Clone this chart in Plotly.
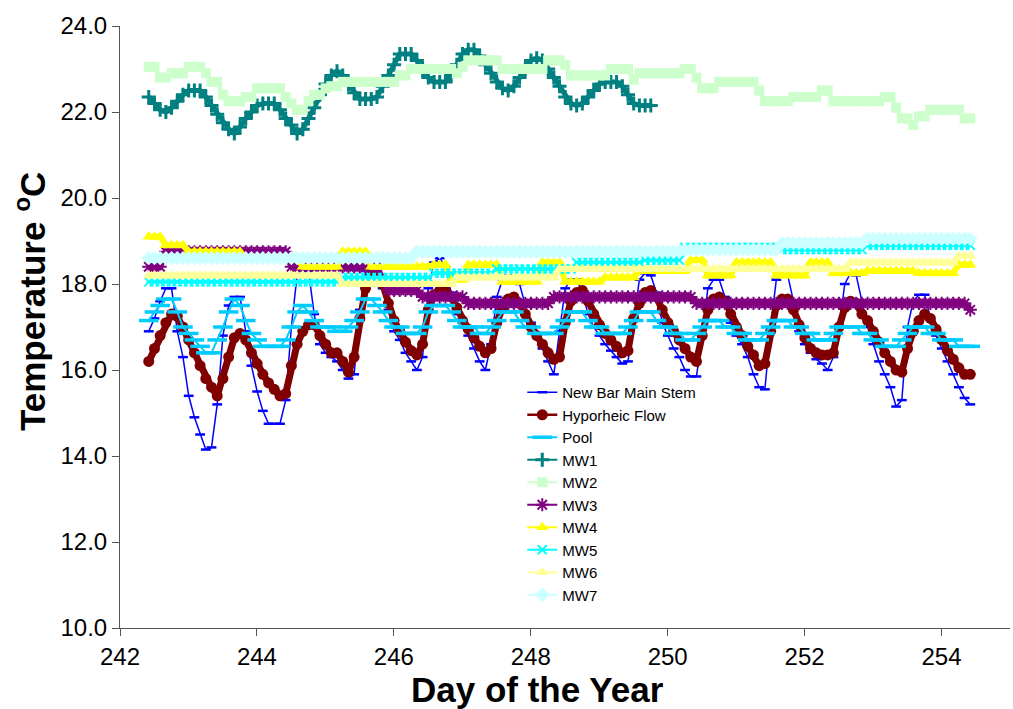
import plotly.graph_objects as go

# time axis: two-hourly readings (day of year)
START_DAY = 242.42
STEP_DAY = 1 / 12
N_READINGS = 145
days = [round(START_DAY + k * STEP_DAY, 4) for k in range(N_READINGS)]

new_bar = [
    16.9, 17.2, 17.6, 17.9, 17.9, 16.9, 16.3, 15.4, 14.9, 14.5, 14.15, 14.2,
    15.2, 16.8, 17.5, 17.7, 17.7, 16.9, 16.1, 15.5, 15.05, 14.75, 14.75, 14.75,
    15.3, 17.0, 18.2, 18.4, 18.3, 17.3, 16.6, 16.4, 16.3, 16.2, 16.0, 15.8,
    15.9, 17.4, 18.3, 18.6, 18.5, 17.9, 17.4, 16.9, 16.7, 16.4, 16.2, 16.0,
    16.3, 17.9, 18.5, 18.6, 18.4, 17.8, 17.3, 17.1, 16.8, 16.5, 16.2, 16.0,
    16.6, 17.7, 18.1, 18.2, 18.1, 18.0, 17.5, 17.1, 16.8, 16.5, 16.2, 15.9,
    16.9, 17.9, 18.1, 18.1, 17.8, 17.3, 17.0, 16.8, 16.6, 16.45, 16.3, 16.15,
    16.2, 17.2, 18.1, 18.25, 18.2, 17.8, 17.1, 16.8, 16.5, 16.3, 16.0, 15.85,
    15.85, 16.8, 17.9, 18.1, 18.1, 17.7, 17.1, 16.8, 16.6, 16.3, 15.9, 15.6,
    15.55, 17.0, 18.1, 18.2, 18.2, 17.6, 16.9, 16.6, 16.4, 16.25, 16.15, 16.0,
    16.3, 17.0, 18.0, 18.25, 18.2, 17.6, 17.0, 16.6, 16.2, 15.9, 15.6, 15.15,
    15.3, 17.0, 17.6, 17.75, 17.75, 17.2, 16.8, 16.5, 16.2, 15.9, 15.6, 15.35,
    15.2,
]

hyporheic = [
    16.2, 16.5, 16.8, 17.1, 17.3, 17.25, 17.0, 16.7, 16.4, 16.1, 15.8, 15.6,
    15.4, 15.8, 16.3, 16.75, 16.85, 16.7, 16.4, 16.15, 15.9, 15.7, 15.55, 15.4,
    15.45, 16.1, 16.6, 16.9, 17.05, 17.05, 16.8, 16.6, 16.4, 16.4, 16.2, 15.95,
    16.3, 17.2, 17.9, 18.35, 18.4, 18.0, 17.55, 17.15, 16.9, 16.65, 16.45, 16.35,
    16.6, 17.4, 17.75, 17.85, 17.85, 17.7, 17.45, 17.15, 16.95, 16.75, 16.55, 16.4,
    16.5, 17.1, 17.45, 17.65, 17.7, 17.55, 17.3, 17.0, 16.8, 16.6, 16.4, 16.25,
    16.3, 17.1, 17.6, 17.8, 17.85, 17.6, 17.3, 17.05, 16.85, 16.7, 16.55, 16.4,
    16.45, 17.2, 17.55, 17.8, 17.85, 17.7, 17.4, 17.1, 16.9, 16.7, 16.5, 16.3,
    16.2, 16.8, 17.4, 17.65, 17.7, 17.6, 17.3, 17.0, 16.8, 16.55, 16.35, 16.1,
    16.15, 16.9, 17.5, 17.65, 17.65, 17.4, 17.05, 16.75, 16.5, 16.4, 16.35, 16.35,
    16.4, 17.0, 17.45, 17.6, 17.55, 17.3, 17.15, 16.9, 16.65, 16.4, 16.2, 16.0,
    15.95, 16.5, 16.9, 17.15, 17.3, 17.2, 16.95, 16.7, 16.45, 16.25, 16.05, 15.9,
    15.9,
]

pool = [
    17.15, 17.35, 17.5, 17.65, 17.65, 17.35, 17.0, 16.85, 16.7, 16.55, 16.4, 16.4,
    16.7, 17.0, 17.35, 17.65, 17.5, 17.15, 16.85, 16.7, 16.55, 16.55, 16.55, 16.55,
    16.7, 17.0, 17.35, 17.5, 17.35, 17.15, 17.0, 17.0, 17.0, 16.9, 16.9, 17.0,
    17.15, 17.35, 17.65, 17.65, 17.5, 17.35, 17.15, 17.0, 17.0, 16.85, 16.85, 16.85,
    17.0, 17.35, 17.5, 17.5, 17.5, 17.35, 17.15, 17.0, 17.0, 17.0, 16.85, 16.85,
    17.0, 17.15, 17.35, 17.35, 17.35, 17.15, 17.0, 17.0, 16.85, 16.85, 16.85, 16.85,
    17.0, 17.15, 17.35, 17.35, 17.35, 17.15, 17.0, 17.0, 16.85, 16.85, 16.85, 16.85,
    17.0, 17.15, 17.35, 17.35, 17.35, 17.15, 17.0, 17.0, 16.85, 16.85, 16.7, 16.7,
    16.85, 17.0, 17.15, 17.15, 17.15, 17.0, 17.0, 16.85, 16.85, 16.7, 16.7, 16.7,
    16.85, 17.0, 17.15, 17.15, 17.15, 17.0, 17.0, 16.85, 16.85, 16.7, 16.7, 16.7,
    16.85, 17.0, 17.0, 17.0, 17.0, 16.85, 16.85, 16.7, 16.7, 16.55, 16.55, 16.55,
    16.7, 16.85, 17.0, 17.0, 17.0, 16.85, 16.85, 16.7, 16.7, 16.7, 16.55, 16.55,
    16.55,
]

mw1 = [
    22.35, 22.2, 22.05, 22.0, 22.1, 22.25, 22.4, 22.5, 22.5, 22.5, 22.35, 22.15,
    21.95, 21.75, 21.6, 21.5, 21.65, 21.85, 22.0, 22.15, 22.2, 22.2, 22.2, 22.05,
    21.85, 21.7, 21.5, 21.6, 21.85, 22.1, 22.4, 22.65, 22.85, 22.95, 22.85, 22.65,
    22.45, 22.3, 22.3, 22.3, 22.35, 22.6, 22.85, 23.1, 23.35, 23.35, 23.35, 23.2,
    23.0, 22.8, 22.7, 22.7, 22.7, 22.85, 23.1, 23.35, 23.45, 23.45, 23.3, 23.1,
    22.9, 22.7, 22.55, 22.5, 22.6, 22.8, 23.0, 23.2, 23.25, 23.2, 23.0, 22.8,
    22.6, 22.35, 22.2, 22.15, 22.2, 22.35, 22.5, 22.65, 22.7, 22.7, 22.7, 22.6,
    22.4, 22.2, 22.15, 22.15, 22.15,
]

mw2 = [
    23.05, 23.05, 22.8, 22.8, 22.9, 22.9, 22.9, 23.05, 23.05, 23.05, 22.9, 22.7,
    22.7, 22.4, 22.25, 22.25, 22.25, 22.35, 22.35, 22.55, 22.55, 22.55, 22.55, 22.55,
    22.35, 22.2, 22.05, 22.05, 22.25, 22.4, 22.4, 22.55, 22.6, 22.6, 22.7, 22.7,
    22.7, 22.7, 22.7, 22.7, 22.7, 22.7, 22.7, 22.7, 22.85, 22.85, 23.0, 23.0,
    23.0, 23.0, 23.0, 23.0, 23.0, 23.0, 22.9, 23.05, 23.2, 23.2, 23.2, 23.2,
    23.2, 23.2, 23.0, 23.0, 23.0, 23.0, 23.0, 23.0, 23.0, 23.0, 23.2, 23.2,
    23.2, 23.1, 22.85, 22.85, 22.85, 22.85, 22.85, 22.85, 22.85, 23.0, 23.0, 23.0,
    23.0, 22.75, 22.9, 22.9, 22.9, 22.9, 22.9, 22.9, 22.9, 22.9, 23.0, 23.0,
    22.8, 22.55, 22.55, 22.55, 22.7, 22.7, 22.7, 22.7, 22.7, 22.7, 22.7, 22.5,
    22.25, 22.25, 22.25, 22.25, 22.25, 22.35, 22.35, 22.35, 22.35, 22.35, 22.5, 22.5,
    22.25, 22.25, 22.25, 22.25, 22.25, 22.25, 22.25, 22.25, 22.25, 22.35, 22.35, 22.1,
    21.85, 21.85, 21.7, 21.9, 21.9, 22.05, 22.05, 22.05, 22.05, 22.05, 22.05, 21.85,
    21.85,
]

mw3 = [
    18.4, 18.4, 18.4, 18.75, 18.75, 18.75, 18.75, 18.75, 18.75, 18.75, 18.75, 18.75,
    18.75, 18.75, 18.75, 18.75, 18.75, 18.75, 18.75, 18.75, 18.75, 18.75, 18.75, 18.75,
    18.75, 18.4, 18.4, 18.4, 18.4, 18.4, 18.4, 18.4, 18.4, 18.4, 18.4, 18.4,
    18.4, 18.4, 18.4, 18.4, 18.4, 18.1, 17.85, 17.85, 17.85, 17.85, 17.85, 17.85,
    17.7, 17.7, 17.7, 17.7, 17.7, 17.7, 17.7, 17.7, 17.55, 17.55, 17.55, 17.55,
    17.55, 17.55, 17.55, 17.55, 17.55, 17.55, 17.55, 17.55, 17.55, 17.55, 17.55, 17.7,
    17.7, 17.7, 17.7, 17.7, 17.7, 17.7, 17.7, 17.7, 17.7, 17.7, 17.7, 17.7,
    17.7, 17.7, 17.7, 17.7, 17.7, 17.7, 17.7, 17.7, 17.7, 17.7, 17.7, 17.7,
    17.55, 17.55, 17.55, 17.55, 17.55, 17.55, 17.55, 17.55, 17.55, 17.55, 17.55, 17.55,
    17.55, 17.55, 17.55, 17.55, 17.55, 17.55, 17.55, 17.55, 17.55, 17.55, 17.55, 17.55,
    17.55, 17.55, 17.55, 17.55, 17.55, 17.55, 17.55, 17.55, 17.55, 17.55, 17.55, 17.55,
    17.55, 17.55, 17.55, 17.55, 17.55, 17.55, 17.55, 17.55, 17.55, 17.55, 17.55, 17.55,
    17.4,
]

mw4 = [
    19.1, 19.1, 19.1, 18.9, 18.9, 18.9, 18.9, 18.75, 18.75, 18.75, 18.75, 18.75,
    18.75, 18.75, 18.75, 18.75, 18.75, 18.6, 18.6, 18.6, 18.6, 18.6, 18.6, 18.6,
    18.6, 18.6, 18.6, 18.4, 18.4, 18.4, 18.4, 18.4, 18.4, 18.4, 18.75, 18.75,
    18.75, 18.75, 18.75, 18.4, 18.4, 18.4, 18.4, 18.4, 18.4, 18.4, 18.4, 18.4,
    18.4, 18.4, 18.45, 18.45, 18.45, 18.1, 18.1, 18.1, 18.45, 18.45, 18.45, 18.45,
    18.45, 18.45, 18.05, 18.05, 18.05, 18.05, 18.05, 18.05, 18.05, 18.5, 18.5, 18.5,
    18.5, 18.05, 18.05, 18.05, 18.05, 18.05, 18.05, 18.05, 18.15, 18.15, 18.15, 18.15,
    18.15, 18.15, 18.3, 18.3, 18.3, 18.3, 18.3, 18.3, 18.3, 18.3, 18.3, 18.55,
    18.55, 18.55, 18.2, 18.2, 18.2, 18.2, 18.2, 18.5, 18.5, 18.5, 18.5, 18.5,
    18.5, 18.5, 18.2, 18.2, 18.2, 18.2, 18.2, 18.2, 18.5, 18.5, 18.5, 18.5,
    18.25, 18.25, 18.25, 18.25, 18.25, 18.25, 18.3, 18.3, 18.3, 18.3, 18.3, 18.3,
    18.3, 18.3, 18.3, 18.25, 18.25, 18.25, 18.25, 18.25, 18.25, 18.25, 18.45, 18.45,
    18.45,
]

mw5 = [
    18.05, 18.05, 18.05, 18.05, 18.05, 18.05, 18.05, 18.05, 18.05, 18.05, 18.05, 18.05,
    18.05, 18.05, 18.05, 18.05, 18.05, 18.05, 18.05, 18.05, 18.05, 18.05, 18.05, 18.05,
    18.05, 18.05, 18.05, 18.05, 18.05, 18.05, 18.05, 18.05, 18.05, 18.05, 18.15, 18.15,
    18.15, 18.15, 18.15, 18.15, 18.15, 18.15, 18.15, 18.15, 18.15, 18.15, 18.15, 18.15,
    18.15, 18.15, 18.25, 18.25, 18.25, 18.25, 18.25, 18.25, 18.25, 18.25, 18.25, 18.25,
    18.25, 18.35, 18.35, 18.35, 18.35, 18.35, 18.35, 18.35, 18.35, 18.35, 18.35, 18.35,
    18.35, 18.35, 18.35, 18.5, 18.5, 18.5, 18.5, 18.5, 18.5, 18.5, 18.5, 18.5,
    18.5, 18.5, 18.5, 18.55, 18.55, 18.55, 18.55, 18.55, 18.55, 18.55, 18.85, 18.85,
    18.85, 18.85, 18.85, 18.85, 18.85, 18.85, 18.85, 18.85, 18.85, 18.85, 18.85, 18.85,
    18.85, 18.85, 18.85, 18.8, 18.8, 18.8, 18.8, 18.8, 18.8, 18.8, 18.8, 18.8,
    18.8, 18.8, 18.8, 18.8, 18.8, 18.8, 18.9, 18.9, 18.9, 18.9, 18.9, 18.9,
    18.9, 18.9, 18.9, 18.9, 18.9, 18.9, 18.9, 18.9, 18.9, 18.9, 18.9, 18.9,
    18.9,
]

mw6 = [
    18.2, 18.2, 18.2, 18.2, 18.2, 18.2, 18.2, 18.2, 18.2, 18.2, 18.2, 18.2,
    18.2, 18.2, 18.2, 18.2, 18.2, 18.2, 18.2, 18.2, 18.2, 18.2, 18.2, 18.2,
    18.2, 18.2, 18.2, 18.2, 18.2, 18.2, 18.2, 18.2, 18.2, 18.2, 18.0, 18.0,
    18.0, 18.0, 18.0, 18.0, 18.0, 18.0, 18.0, 18.0, 18.0, 18.0, 18.0, 18.0,
    18.0, 18.0, 18.0, 18.0, 18.0, 18.0, 18.15, 18.15, 18.15, 18.15, 18.15, 18.15,
    18.15, 18.15, 18.15, 18.15, 18.15, 18.15, 18.15, 18.15, 18.15, 18.15, 18.15, 18.15,
    18.35, 18.35, 18.35, 18.35, 18.35, 18.35, 18.35, 18.35, 18.35, 18.35, 18.35, 18.35,
    18.35, 18.35, 18.35, 18.35, 18.35, 18.35, 18.35, 18.35, 18.35, 18.35, 18.35, 18.35,
    18.35, 18.35, 18.35, 18.35, 18.35, 18.35, 18.35, 18.35, 18.35, 18.35, 18.35, 18.35,
    18.35, 18.35, 18.35, 18.35, 18.35, 18.35, 18.35, 18.35, 18.35, 18.35, 18.35, 18.35,
    18.35, 18.35, 18.35, 18.5, 18.5, 18.5, 18.5, 18.5, 18.5, 18.5, 18.5, 18.5,
    18.5, 18.5, 18.5, 18.5, 18.5, 18.5, 18.5, 18.5, 18.5, 18.5, 18.65, 18.65,
    18.65,
]

mw7 = [
    18.6, 18.6, 18.6, 18.6, 18.6, 18.6, 18.6, 18.6, 18.6, 18.6, 18.6, 18.6,
    18.6, 18.6, 18.6, 18.6, 18.6, 18.6, 18.6, 18.6, 18.6, 18.6, 18.6, 18.6,
    18.6, 18.6, 18.6, 18.6, 18.6, 18.6, 18.6, 18.6, 18.6, 18.6, 18.6, 18.6,
    18.6, 18.6, 18.6, 18.6, 18.6, 18.6, 18.6, 18.6, 18.6, 18.6, 18.6, 18.75,
    18.75, 18.75, 18.75, 18.75, 18.75, 18.75, 18.75, 18.75, 18.75, 18.75, 18.75, 18.75,
    18.75, 18.75, 18.75, 18.75, 18.75, 18.75, 18.75, 18.75, 18.75, 18.75, 18.75, 18.75,
    18.75, 18.75, 18.75, 18.75, 18.75, 18.75, 18.75, 18.75, 18.75, 18.75, 18.75, 18.75,
    18.75, 18.75, 18.75, 18.75, 18.75, 18.75, 18.75, 18.75, 18.75, 18.75, 18.8, 18.8,
    18.8, 18.8, 18.8, 18.8, 18.8, 18.8, 18.8, 18.8, 18.8, 18.8, 18.8, 18.8,
    18.8, 18.8, 18.8, 18.95, 18.95, 18.95, 18.95, 18.95, 18.95, 18.95, 18.95, 18.95,
    18.95, 18.95, 18.95, 18.95, 18.95, 18.95, 19.05, 19.05, 19.05, 19.05, 19.05, 19.05,
    19.05, 19.05, 19.05, 19.05, 19.05, 19.05, 19.05, 19.05, 19.05, 19.05, 19.05, 19.05,
    19.05,
]

x_ticks = [242, 244, 246, 248, 250, 252, 254]
y_ticks = [10, 12, 14, 16, 18, 20, 22, 24]

FONT = "Liberation Sans, Arial, sans-serif"

# (name, values, colour, data-line width, marker, legend-line width)
series = [
    ("New Bar Main Stem", new_bar, "#0000FF", 1.5,
     dict(symbol="line-ew", size=7, line=dict(color="#0000FF", width=2.5)), 1.5),
    ("Hyporheic Flow", hyporheic, "#800000", 7,
     dict(symbol="circle", size=11, color="#800000"), 2.5),
    ("Pool", pool, "#00CCFF", 2,
     dict(symbol="line-ew", size=14, line=dict(color="#00CCFF", width=3.5)), 2),
    ("MW1", mw1, "#008080", 5,
     dict(symbol="cross-thin", size=10, line=dict(color="#008080", width=3)), 2),
    ("MW2", mw2, "#CCFFCC", 4,
     dict(symbol="square", size=10, color="#CCFFCC"), 2),
    ("MW3", mw3, "#800080", 6,
     dict(symbol="asterisk", size=11, line=dict(color="#800080", width=2)), 2),
    ("MW4", mw4, "#FFFF00", 6,
     dict(symbol="triangle-up", size=11, color="#FFFF00"), 2),
    ("MW5", mw5, "#00FFFF", 3,
     dict(symbol="x-thin", size=9, line=dict(color="#00FFFF", width=2)), 2),
    ("MW6", mw6, "#FFFF99", 6,
     dict(symbol="triangle-up", size=11, color="#FFFF99"), 2),
    ("MW7", mw7, "#CCFFFF", 6,
     dict(symbol="diamond", size=11, color="#CCFFFF"), 2),
]

fig = go.Figure()
for name, vals, color, lw, marker, _ in series:
    fig.add_trace(go.Scatter(
        x=days[:len(vals)], y=vals, name=name, mode="lines+markers",
        line=dict(color=color, width=lw), marker=marker, showlegend=False,
    ))
# legend entries (thin line + marker, as in the original key)
for name, vals, color, lw, marker, legend_lw in series:
    fig.add_trace(go.Scatter(
        x=[None], y=[None], name=name, mode="lines+markers",
        line=dict(color=color, width=legend_lw), marker=marker, showlegend=True,
    ))

fig.update_layout(
    width=1013, height=709,
    margin=dict(l=120, r=3, t=26, b=81),
    paper_bgcolor="white", plot_bgcolor="white",
    font=dict(family=FONT, color="black"),
    showlegend=True,
    legend=dict(
        x=0.452, y=(628 - 376) / 602, xanchor="left", yanchor="top",
        bgcolor="rgba(0,0,0,0)", borderwidth=0,
        font=dict(family=FONT, size=15, color="black"),
    ),
    xaxis=dict(
        range=[242, 255], tickvals=x_ticks, ticktext=[str(v) for v in x_ticks],
        showline=True, linecolor="#555555", linewidth=1,
        ticks="outside", ticklen=7, tickcolor="#555555",
        showgrid=False, zeroline=False,
        tickfont=dict(family=FONT, size=24, color="black"),
    ),
    yaxis=dict(
        range=[10, 24], tickvals=y_ticks, ticktext=[f"{v:.1f}" for v in y_ticks],
        showline=True, linecolor="#555555", linewidth=1,
        ticks="outside", ticklen=7, tickcolor="#555555",
        showgrid=False, zeroline=False,
        tickfont=dict(family=FONT, size=24, color="black"),
    ),
    annotations=[
        dict(text="Day of the Year", xref="paper", yref="paper",
             x=(537 - 120) / 890, y=-(690 - 628) / 602, xanchor="center", yanchor="middle",
             showarrow=False,
             font=dict(family=FONT, size=35, color="black", weight="bold")),
        dict(text="Temperature <sup>o</sup>C", xref="paper", yref="paper",
             x=-(120 - 30) / 890, y=(628 - 302) / 602, xanchor="center", yanchor="middle",
             textangle=-90, showarrow=False,
             font=dict(family=FONT, size=35, color="black", weight="bold")),
    ],
)

fig.write_html("out.html")
